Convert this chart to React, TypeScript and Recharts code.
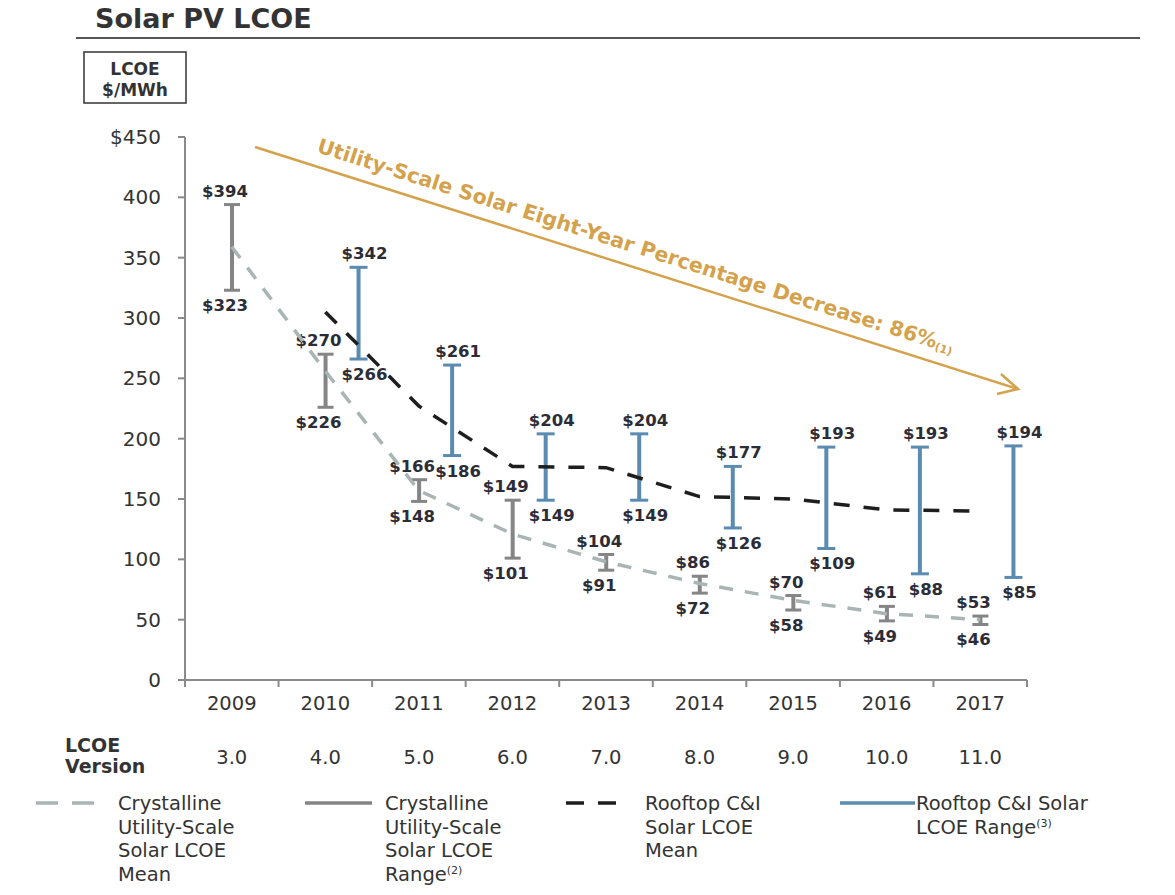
import { ComposedChart, Bar, Line, XAxis, YAxis } from "recharts";

// values
const years = ["2009", "2010", "2011", "2012", "2013", "2014", "2015", "2016", "2017"];
const lcoeVersions = ["3.0", "4.0", "5.0", "6.0", "7.0", "8.0", "9.0", "10.0", "11.0"];
const utilityLow = [323, 226, 148, 101, 91, 72, 58, 49, 46];
const utilityHigh = [394, 270, 166, 149, 104, 86, 70, 61, 53];
const utilityMean = [359, 256, 157, 121, 98, 80, 66, 55, 50];
const rooftopLow = [null, 266, 186, 149, 149, 126, 109, 88, 85];
const rooftopHigh = [null, 342, 261, 204, 204, 177, 193, 193, 194];
const rooftopMean = [null, 305, 227, 177, 176, 152, 150, 141, 140];
const yTicks = [0, 50, 100, 150, 200, 250, 300, 350, 400, 450];

const data = years.map((year, i) => ({
  year,
  utilityRange: [utilityLow[i], utilityHigh[i]],
  rooftopRange: rooftopLow[i] == null ? null : [rooftopLow[i], rooftopHigh[i]],
  utilityMean: utilityMean[i],
  rooftopMean: rooftopMean[i],
}));

const W = 1175;
const H = 895;
const PLOT_LEFT = 185;
const PLOT_RIGHT = 1027;
const PLOT_TOP = 137;
const PLOT_BOTTOM = 680;
const Y_AXIS_W = 60;
const X_AXIS_H = 30;
const BAND = (PLOT_RIGHT - PLOT_LEFT) / years.length;

const FONT = "'DejaVu Sans', 'Liberation Sans', sans-serif";
const GRAY = "#858585";
const BLUE = "#5b8bb0";
const LIGHT = "#a9b5b5";
const DARK = "#1e1e1e";
const GOLD = "#d4a24c";
const AXIS = "#8a8a8a";
const TEXT = "#2c2c36";

// I-beam range marker with its two value labels
const makeRangeShape = (key: string, color: string, capW: number, dx: number, labelDx: number) =>
  (props: any) => {
    const range = props.payload?.[key];
    if (!range) return <g />;
    const cx = props.x + props.width / 2 + dx;
    const top = Math.min(props.y, props.y + props.height);
    const bottom = Math.max(props.y, props.y + props.height);
    return (
      <g>
        <line x1={cx} x2={cx} y1={top} y2={bottom} stroke={color} strokeWidth={4} />
        <line x1={cx - capW / 2} x2={cx + capW / 2} y1={top} y2={top} stroke={color} strokeWidth={3} />
        <line x1={cx - capW / 2} x2={cx + capW / 2} y1={bottom} y2={bottom} stroke={color} strokeWidth={3} />
        <text x={cx + labelDx} y={top - 8} textAnchor="middle" fontFamily={FONT} fontWeight="bold" fontSize={16.5} fill={TEXT}>
          ${range[1]}
        </text>
        <text x={cx + labelDx} y={bottom + 21} textAnchor="middle" fontFamily={FONT} fontWeight="bold" fontSize={16.5} fill={TEXT}>
          ${range[0]}
        </text>
      </g>
    );
  };

const YearTick = (props: any) => {
  const { x, y, payload } = props;
  const index = props.index ?? payload.index;
  const last = index === years.length - 1;
  return (
    <g>
      <line x1={x - BAND / 2} x2={x - BAND / 2} y1={y} y2={y + 7} stroke={AXIS} strokeWidth={2} />
      {last && <line x1={x + BAND / 2} x2={x + BAND / 2} y1={y} y2={y + 7} stroke={AXIS} strokeWidth={2} />}
      <text x={x} y={y + 30} textAnchor="middle" fontFamily={FONT} fontSize={19.5} fill="#333">
        {payload.value}
      </text>
      <text x={x} y={y + 84} textAnchor="middle" fontFamily={FONT} fontSize={19.5} fill="#333">
        {lcoeVersions[index]}
      </text>
    </g>
  );
};

const legendText = { fontFamily: FONT, fontSize: 19.5, fill: "#333" };

const Overlay = () => {
  const angle = (Math.atan2(389 - 147, 1018 - 255) * 180) / Math.PI;
  return (
    <svg width={W} height={H} style={{ position: "absolute", left: 0, top: 0, pointerEvents: "none" }}>
      {/* title */}
      <text x={95} y={28} fontFamily={FONT} fontWeight="bold" fontSize={27} fill="#333">Solar PV LCOE</text>
      <line x1={76} x2={1140} y1={38} y2={38} stroke="#555" strokeWidth={2} />

      {/* unit box */}
      <rect x={84} y={52} width={102} height={51} fill="none" stroke="#333" strokeWidth={1.5} />
      <text x={135} y={75} textAnchor="middle" fontFamily={FONT} fontWeight="bold" fontSize={17} fill="#333">LCOE</text>
      <text x={135} y={96} textAnchor="middle" fontFamily={FONT} fontWeight="bold" fontSize={17} fill="#333">$/MWh</text>

      {/* eight-year decrease arrow */}
      <line x1={255} y1={147} x2={1018} y2={389} stroke={GOLD} strokeWidth={2.5} />
      <polyline points="1001,374 1018,389 997,394" fill="none" stroke={GOLD} strokeWidth={2.5} />
      <text transform={`translate(316,152) rotate(${angle})`} fontFamily={FONT} fontWeight="bold" fontSize={20.5} fill={GOLD}>
        Utility-Scale Solar Eight-Year Percentage Decrease: 86%
        <tspan fontSize={11} dy={2}>(1)</tspan>
      </text>

      {/* LCOE version row label */}
      <text x={65} y={752} fontFamily={FONT} fontWeight="bold" fontSize={19} fill="#333">LCOE</text>
      <text x={65} y={773} fontFamily={FONT} fontWeight="bold" fontSize={19} fill="#333">Version</text>

      {/* legend */}
      <line x1={36} x2={102} y1={803} y2={803} stroke={LIGHT} strokeWidth={3.5} strokeDasharray="22 14" />
      <text x={118} y={810} {...legendText}>
        <tspan x={118}>Crystalline</tspan>
        <tspan x={118} dy={23.5}>Utility-Scale</tspan>
        <tspan x={118} dy={23.5}>Solar LCOE</tspan>
        <tspan x={118} dy={23.5}>Mean</tspan>
      </text>

      <line x1={305} x2={372} y1={803} y2={803} stroke={GRAY} strokeWidth={3.5} />
      <text x={385} y={810} {...legendText}>
        <tspan x={385}>Crystalline</tspan>
        <tspan x={385} dy={23.5}>Utility-Scale</tspan>
        <tspan x={385} dy={23.5}>Solar LCOE</tspan>
        <tspan x={385} dy={23.5}>Range</tspan>
        <tspan fontSize={11} dy={-7}>(2)</tspan>
      </text>

      <line x1={566} x2={628} y1={803} y2={803} stroke={DARK} strokeWidth={3.5} strokeDasharray="18 14" />
      <text x={645} y={810} {...legendText}>
        <tspan x={645}>Rooftop C&amp;I</tspan>
        <tspan x={645} dy={23.5}>Solar LCOE</tspan>
        <tspan x={645} dy={23.5}>Mean</tspan>
      </text>

      <line x1={840} x2={915} y1={803} y2={803} stroke={BLUE} strokeWidth={3.5} />
      <text x={916} y={810} {...legendText}>
        <tspan x={916}>Rooftop C&amp;I Solar</tspan>
        <tspan x={916} dy={23.5}>LCOE Range</tspan>
        <tspan fontSize={11} dy={-7}>(3)</tspan>
      </text>
    </svg>
  );
};

const App = () => {
  return (
    <div style={{ position: "absolute", left: 0, top: 0, width: W, height: H, background: "#fff" }}>
      <ComposedChart
        width={W}
        height={H}
        data={data}
        margin={{
          top: PLOT_TOP,
          right: W - PLOT_RIGHT,
          bottom: H - PLOT_BOTTOM - X_AXIS_H,
          left: PLOT_LEFT - Y_AXIS_W,
        }}
        style={{ position: "absolute", left: 0, top: 0 }}
      >
        <XAxis
          xAxisId="main"
          dataKey="year"
          height={X_AXIS_H}
          axisLine={{ stroke: AXIS, strokeWidth: 2 }}
          tickLine={false}
          tickSize={0}
          tickMargin={0}
          tick={<YearTick />}
          interval={0}
        />
        <XAxis xAxisId="u" dataKey="year" hide />
        <XAxis xAxisId="r" dataKey="year" hide />
        <YAxis
          width={Y_AXIS_W}
          domain={[0, 450]}
          ticks={yTicks}
          interval={0}
          tickFormatter={(v: number) => (v === 450 ? "$450" : String(v))}
          axisLine={{ stroke: AXIS, strokeWidth: 2 }}
          tickLine={{ stroke: AXIS, strokeWidth: 2 }}
          tickSize={7}
          tickMargin={17}
          tick={{ fontFamily: FONT, fontSize: 20, fill: "#333" }}
        />
        <Line
          xAxisId="main"
          dataKey="utilityMean"
          stroke={LIGHT}
          strokeWidth={3.5}
          strokeDasharray="14 12"
          dot={false}
          activeDot={false}
          isAnimationActive={false}
        />
        <Line
          xAxisId="main"
          dataKey="rooftopMean"
          stroke={DARK}
          strokeWidth={3.5}
          strokeDasharray="16 14"
          dot={false}
          activeDot={false}
          isAnimationActive={false}
        />
        <Bar
          xAxisId="u"
          dataKey="utilityRange"
          barSize={16}
          shape={makeRangeShape("utilityRange", GRAY, 16, 0, -7)}
          isAnimationActive={false}
        />
        <Bar
          xAxisId="r"
          dataKey="rooftopRange"
          barSize={16}
          shape={makeRangeShape("rooftopRange", BLUE, 18, 33, 6)}
          isAnimationActive={false}
        />
      </ComposedChart>
      <Overlay />
    </div>
  );
};

export default App;
